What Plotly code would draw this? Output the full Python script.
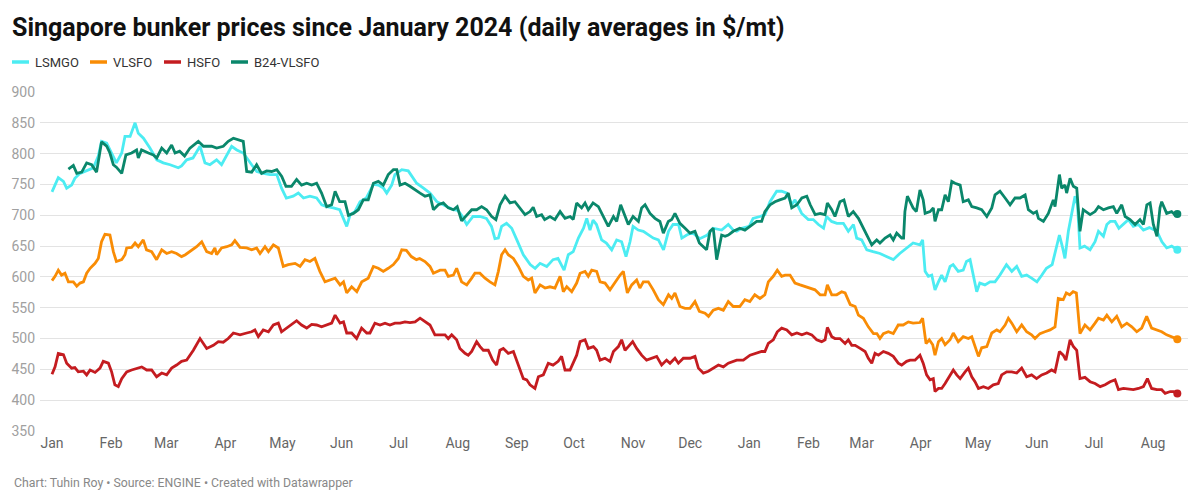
import pandas as pd
import plotly.graph_objects as go

BASE = pd.Timestamp("2024-01-01")

# ---- data: day offset from 2024-01-01 and daily average price ($/mt) ----
lsmgo_day = [0,1.6,3.3,6,7.7,10.3,12,14.7,18,21.7,24.3,26,28.7,32,33.8,36.6,38.3,41,43.6,45.3,48,51.4,55,58.4,62,66.3,
    68,70.7,74,77.7,80.3,82.9,86.4,89,91.7,94.3,97,100.4,104.8,107.5,111,114.4,118,120.5,123,126.6,129.3,132,135.4,138.9,
    141.6,144.2,147.7,151,154.7,156.5,159,161.7,165,168.7,171.3,174,175.7,178.3,180,183.6,187,188.8,191.4,195,198.4,202,
    205.4,208,210.7,213,215,217.7,221,224.6,228,230.7,232.5,234.3,236,238.6,241.3,244,247.4,251,253.6,256.2,259.7,263,
    265.6,268.8,271,273.6,276.3,279,280.7,282.4,284,285.8,288.5,291,293.8,296.4,299,301.3,303.4,305,307.7,310.4,313,315.6,
    318.3,321,323.6,326,328.9,330.6,333.2,336,340,344,347,351.5,355,357.6,359.4,362,366,368,371.6,374.2,376.9,380.4,383,
    385.7,388.3,390,393.5,397,399.6,402.3,405,406.6,409.2,412,415.4,418,420.7,422.4,425,427.7,431,434.6,438,441.6,445,
    448.6,452,455.6,457,458.3,460,461.8,463.5,465.3,467,468.8,471.4,473,475.7,478.3,480,481.9,483.6,485.4,487,489.7,492.4,
    495,497.6,501,503.8,506.4,509,511.6,514.2,517,519.6,522,525,526.5,528.8,530.5,531.7,533.5,535.3,537,538.3,539.6,542,
    544.9,547.5,549.3,551.9,553.7,555.5,558,560,562.4,565,567.6,570.3,572.9,576,580,582.6,585.1,587.7,590.7]
lsmgo = [738,749,761,755,744,749,760,768,772,777,796,820,817,796,785,801,828,828,850,833,825,809,790,785,782,777,
    780,790,793,812,785,782,790,782,798,812,806,801,782,771,768,766,766,744,728,731,736,728,731,728,
    717,714,712,709,682,701,706,722,728,750,749,744,736,749,766,774,772,763,752,744,736,722,
    717,712,709,708,700,685,698,698,695,682,662,663,682,687,679,660,636,620,614,622,617,628,
    630,611,636,641,663,679,695,676,692,685,660,655,644,660,657,633,657,682,676,674,668,663,
    660,644,674,685,685,663,668,672,662,668,679,676,685,676,674,679,682,695,698,701,722,739,739,
    736,717,725,703,693,693,685,679,698,690,687,687,674,685,663,660,644,641,638,633,628,638,
    647,655,652,660,609,601,603,579,592,603,592,617,620,609,611,625,628,601,576,590,587,592,
    592,603,620,609,617,601,603,598,592,603,614,620,638,668,647,630,674,701,731,717,647,650,
    644,657,674,666,685,690,690,679,685,693,682,685,676,680,674,657,647,650,644]

vlsfo_day = [0,1.6,3.3,5,6.8,8.6,11.2,13,14.7,16.5,18.2,20,22.6,24.3,26,27.8,30.4,32.2,33.8,36.6,38.3,39.2,41.8,43.6,
    45.3,47.9,49.6,52.3,54.9,57.6,60.2,62.8,65.4,68,70,72.4,75.9,78.6,81.2,83.8,85.5,86.4,89,91.7,94.3,96,98.7,102.2,
    104.8,107.4,109.2,111.8,113.6,116.2,118.8,121.4,124,127.6,130.2,132.8,135.4,138,140.6,143.3,146,148.6,151.2,153,
    154.7,157.3,160,162.6,166,168.7,171.3,173.9,176.5,179.2,181.8,183.6,186,188.6,191.3,193,195.8,198.4,200.2,203.7,
    206.3,208,210.7,212.4,215,217.7,220.3,222,224.6,227.3,229.9,232.5,234.3,236,237.8,239.5,242.2,244.8,247.4,250,
    251.8,253.5,256.2,258.8,261.4,264,266.7,268.4,270.2,272.8,275.4,277.2,279.8,281.5,283.3,285.9,287.7,290.3,292.9,
    295.6,298.2,299.9,302,304.3,306.9,308.6,310.4,313,315.6,318.3,320.9,323.6,325.3,327,329.6,332.3,334.9,337.5,339.8,
    342.8,344.6,347.1,349.8,352.4,355,357.6,361,363.7,366.3,368.9,371.6,374.2,376,378.6,380.7,383,384.8,387.4,390,
    392.7,395.3,397.9,400.5,403.2,405.8,407,409.3,411.9,414.5,416.3,419,421.6,423.3,425.9,428.5,431.2,433,434.6,436.4,
    439,441.6,444.2,446.8,449.5,452,455.6,457,458.8,460.5,462.3,463.5,465.3,467,468.8,471.4,473.1,475.7,478.3,481,
    482.8,484.5,486.3,488,490.7,493.3,495.9,497.6,500.3,502,503.8,506.4,509,511.6,514.2,516,518.6,521.2,523.9,526.5,
    528.2,530.8,532.4,534.2,536,537.7,539.6,542.2,544.9,547.5,549.3,551.9,553.7,556.3,558.9,561.5,564.2,566.8,569.4,
    572,574.6,577.2,579.9,582.5,585.1,587.7,590.7]
vlsfo = [594,601,611,603,606,592,592,585,590,592,606,614,622,630,657,669,668,641,625,628,636,647,648,655,
    649,660,644,641,628,644,638,641,638,633,636,641,649,657,641,638,647,636,647,649,652,659,648,647,
    644,647,638,649,641,652,647,617,620,622,617,628,625,630,609,592,595,598,587,592,
    574,584,576,592,598,617,614,609,614,620,630,644,643,633,628,630,625,617,606,611,
    611,601,603,614,592,587,598,606,606,598,592,587,609,636,644,636,630,617,601,595,
    598,574,587,582,584,582,601,576,584,576,590,606,609,601,611,609,592,590,579,
    592,603,609,574,587,595,582,592,592,579,563,555,571,565,574,552,549,549,560,544,
    541,536,546,549,546,560,552,552,563,560,571,565,571,592,601,611,601,603,603,590,
    587,584,582,579,571,571,587,571,571,576,574,555,552,538,533,519,508,508,500,508,
    511,508,522,522,527,525,526,533,492,498,490,473,495,500,490,498,509,495,503,500,
    503,487,471,485,487,509,514,511,522,533,525,511,522,511,506,500,508,511,514,519,
    565,563,574,571,576,574,508,522,514,525,533,530,538,527,536,519,525,519,511,
    517,536,517,514,511,506,503,499]

hsfo_day = [0,1.6,3.3,6,7.7,10.3,12,13.8,16.5,18.2,20,22.6,25.2,26.9,29.6,31.3,33,34.8,36.6,39.2,41.8,44.4,47.1,49.7,
    52.3,54.9,57.6,60.2,62.8,65.4,68,70.7,74.2,77.7,81.2,84.7,87.3,89.9,92.5,95.2,98.7,102.2,104.8,106.5,108.3,110.9,
    113.6,116.2,118.8,120.5,123.2,125.8,128.4,131,133.7,136.3,138.9,141.5,144.2,146.8,148.6,151.2,153,154.7,157.3,
    159.9,162.5,165.2,166.9,169.5,172.2,174.8,177.4,180,182.7,185.3,187.9,190.6,193.2,195.8,198.4,201,203.7,206.3,208,
    209.8,212.4,214.1,216.8,218.5,220.3,222.9,224.7,226.4,229,231.3,233.4,235.1,236.9,239.5,242.2,243.9,245.7,247.4,
    249.2,250.9,253.5,255.3,257.9,260.5,263,265.7,267.5,269.3,271.9,273.6,275.4,277.2,279.8,281.5,284.2,285.9,287.7,
    290.3,292.9,294.7,297.3,299,300.8,302.5,304.8,306.9,309.5,312.1,314.8,317.4,320,322.6,324.4,327,328.8,331.4,334.9,
    337.5,339.3,341.9,344.5,347.1,349.8,352.4,355,359.4,362.9,366.4,369.9,372.5,374.2,376,378.6,380.7,383,385.7,388.3,
    391,393.6,396.2,398.8,401.4,404,405.8,407,409.3,411,413.6,416.3,418,419.8,421.6,424.2,426.8,428.5,430.3,432,433.8,
    436.4,439,441.6,444.2,446,448.6,450.4,453,455.6,457.3,459.1,460.9,462.6,463.5,465.3,467,468.8,471.4,473.1,474.9,
    476.7,479.3,481,482.8,484.5,486.3,488.9,491.5,494.1,496.7,498.5,501.1,503.8,506.4,509,511.6,514.2,516.8,519.5,
    522.1,524.7,526.5,528.8,530.8,532.2,534.4,536.1,537.9,539.6,542.2,544.9,547.5,550.2,552.8,555.4,558,559.8,562.4,
    565,567.6,570.3,572.9,575,577.2,579.9,582.5,584.3,587,588.7,590.7]
hsfo = [442,454,476,474,460,452,453,446,447,441,449,445,452,463,460,446,425,422,435,446,449,452,454,449,
    449,438,444,441,452,457,463,465,481,500,484,489,495,494,500,509,506,509,511,514,503,514,
    511,522,525,511,517,522,529,522,517,523,522,519,522,525,538,525,527,509,509,
    500,517,509,509,525,522,525,522,525,525,527,526,527,533,527,522,506,506,506,500,
    506,498,484,476,473,479,495,487,481,481,465,457,481,484,476,479,465,452,435,
    433,425,419,438,441,460,457,463,471,449,449,460,473,495,498,484,487,481,465,
    468,463,479,487,498,481,487,495,484,473,465,468,471,457,465,460,468,460,468,468,
    471,452,444,447,452,457,454,460,465,465,473,476,479,479,492,498,511,517,514,506,
    509,506,509,506,498,495,498,518,503,500,500,492,498,489,489,484,479,468,460,476,473,
    479,476,471,460,457,463,465,465,473,460,441,433,435,414,419,419,427,441,449,441,
    435,446,452,438,430,419,422,419,425,427,441,446,446,444,452,438,441,435,441,
    444,449,446,479,473,465,498,487,481,435,437,430,427,422,425,430,433,417,419,
    418,417,419,422,435,419,417,417,411,414,414,411]

b24_day = [8.6,11.2,13,15.6,18.2,20.8,23.4,26,28.7,30.4,32.2,33.8,36.6,38.8,41.8,44.4,45.3,47,50.6,53.2,55,57.6,60.2,
    62.8,64.6,67,69.6,72.4,76.8,79.5,83.8,86.4,89.9,92.5,95.2,97.8,100.4,102.2,104.8,107.4,110,112.7,115.3,118,120.6,
    122.8,125.7,128.4,131,133.7,136.3,138.9,141.5,144.2,146.8,148.6,151,153.8,155.6,158.2,160.8,163.4,166,168.7,171.3,
    173.9,176.5,179.2,181,182.7,185.3,187.9,190.6,193.2,195.8,198.4,200.2,202.8,205.4,208,210.7,212.7,215,217.7,220.3,
    222.9,225.5,228.1,230.8,233,235.2,237.8,240.4,243,245.7,248.3,250.9,252.6,254.4,257,258.6,261.4,264,266.7,269.3,
    272,273.6,275.4,278,279.8,281.5,284,286.8,289.4,292,294.7,296.4,298.5,300.7,302.5,305,307.8,309.5,311.3,313.9,
    316.5,319.1,320.9,323.5,325.3,327,329.6,332.3,334.9,337.5,339.8,341.9,343.6,345.4,347.1,348.9,351.5,353.3,355,
    357.6,361,363.7,366.3,369.9,372.5,374.2,376.9,379.5,382,384.8,386.5,388.3,391,393.6,396.2,398,400.6,403.2,405.8,
    407,409.3,411,413.6,415.7,418,420.6,423.3,425.9,428.5,430.3,432.9,434.6,437.3,439.9,441.6,443.4,446,447,447.7,
    449,452,453.7,455.6,457.3,458.3,460.9,462.6,463.5,465.3,467,468.8,470.5,472.3,474,476.7,478.3,481,482.8,485.4,
    488,490.7,493.3,495,497.6,500.3,502.9,505.5,508.1,510.8,512.5,515.1,516.8,517.8,520.4,523,525.6,526.5,528.8,530,
    531.7,532.6,534.4,536.1,537.9,539.6,541.3,544.9,547.5,549.3,551.9,554.5,557.1,558.9,561.5,563.3,565.9,568.5,
    571.1,572.9,574.7,576.4,578.1,580,581.6,582.5,585.1,587.7,589.4,590.7]
b24 = [775,781,768,770,785,782,770,819,812,801,782,778,768,798,801,806,793,806,801,798,793,809,801,
    814,801,804,796,809,820,812,812,809,812,820,825,823,820,771,770,782,768,772,771,774,763,
    747,747,758,749,752,749,752,736,714,717,739,722,722,700,703,709,725,725,752,755,
    749,766,774,774,749,752,747,741,736,731,733,709,717,720,712,709,714,691,701,709,
    709,714,709,698,693,717,731,720,722,712,701,706,713,698,701,693,698,693,706,695,
    698,693,720,712,720,709,720,714,698,682,698,690,717,701,685,698,690,712,717,703,
    695,690,671,690,693,703,687,679,671,674,655,649,644,674,679,628,668,666,668,
    674,679,676,682,690,690,706,717,722,725,728,736,712,717,728,731,717,701,703,701,
    720,709,698,722,725,698,706,695,679,663,652,660,655,663,668,660,671,663,663,706,
    731,712,706,741,725,703,706,712,690,709,709,733,722,755,752,749,722,725,714,712,
    709,698,712,733,739,728,717,728,728,733,709,703,706,695,690,703,725,714,766,744,
    749,736,760,747,744,674,709,701,706,714,709,712,714,703,717,698,693,685,
    693,685,717,720,685,666,712,722,703,706,701,702]

series_names = ["LSMGO", "VLSFO", "HSFO", "B24-VLSFO"]
series_days = [lsmgo_day, vlsfo_day, hsfo_day, b24_day]
series_vals = [lsmgo, vlsfo, hsfo, b24]
colors = ["#4cecf2", "#f98c05", "#c41c20", "#0a876b"]

FONT = "Roboto"
OFF = 8                      # page body margin offset
W, H = 1200 - 2 * OFF, 502 - 2 * OFF
ML = 40 - OFF
MT = 92 - OFF
MR = W - (1188 - OFF)
MB = H - (431 - OFF)
PW, PH = W - ML - MR, H - MT - MB


def px2paper(px, py):
    """reference-screen pixel -> paper coords"""
    return (px - OFF - ML) / PW, (H - MB - (py - OFF)) / PH


fig = go.Figure()
for name, days, vals, col in zip(series_names, series_days, series_vals, colors):
    dates = BASE + pd.to_timedelta(days, unit="D")
    fig.add_trace(go.Scatter(x=dates, y=vals, mode="lines", name=name,
                             line=dict(color=col, width=2.8), showlegend=False,
                             hoverinfo="x+y"))
    fig.add_trace(go.Scatter(x=[dates[-1]], y=[vals[-1]], mode="markers",
                             marker=dict(color=col, size=8), showlegend=False,
                             hoverinfo="skip"))

# custom legend (short swatches like the original)
legend_px = [(12, 29, 33), (90, 107, 111), (164, 181, 185), (231, 248, 252)]
shapes, annotations = [], []
for (x0, x1, tx), name, col in zip(legend_px, series_names, colors):
    a0, yy = px2paper(x0, 62)
    a1, _ = px2paper(x1, 62)
    shapes.append(dict(type="line", xref="paper", yref="paper", x0=a0, x1=a1, y0=yy, y1=yy,
                       line=dict(color=col, width=3.5)))
    tx_p, _ = px2paper(tx, 62)
    annotations.append(dict(xref="paper", yref="paper", x=tx_p, y=yy, xanchor="left", yanchor="middle",
                            text=name, showarrow=False, font=dict(family=FONT, size=13, color="#333333")))

fx, fy = px2paper(12, 483)
annotations.append(dict(xref="paper", yref="paper", x=fx, y=fy, xanchor="left", yanchor="middle",
                        text="Chart: Tuhin Roy • Source: ENGINE • Created with Datawrapper",
                        showarrow=False, font=dict(family=FONT, size=12.3, color="#888888")))

x_start = BASE + pd.Timedelta(days=-6.3)
x_end = BASE + pd.Timedelta(days=596.3)

fig.update_layout(
    width=W, height=H,
    margin=dict(l=ML, r=MR, t=MT, b=MB),
    paper_bgcolor="white", plot_bgcolor="white",
    title=dict(text="Singapore bunker prices since January 2024 (daily averages in $/mt)",
               x=(12 - OFF) / W, xanchor="left", y=1 - (27 - OFF) / H, yanchor="middle",
               font=dict(family=FONT, size=25, color="#111111", weight="bold")),
    shapes=shapes, annotations=annotations,
    xaxis=dict(type="date", range=[x_start, x_end], dtick="M1", tick0="2024-01-01",
               tickformat="%b", showgrid=False, zeroline=False, showline=False,
               ticks="", tickfont=dict(family=FONT, size=14, color="#666666"),
               ticklabelstandoff=2),
    yaxis=dict(range=[350, 900], tick0=350, dtick=50, showgrid=True, gridcolor="#e3e3e3",
               gridwidth=1, zeroline=False, showline=False, ticks="",
               tickfont=dict(family=FONT, size=14, color="#a0a0a0"), ticklabelstandoff=4),
    showlegend=False,
    hovermode="closest",
)

fig.write_html("out.html")
